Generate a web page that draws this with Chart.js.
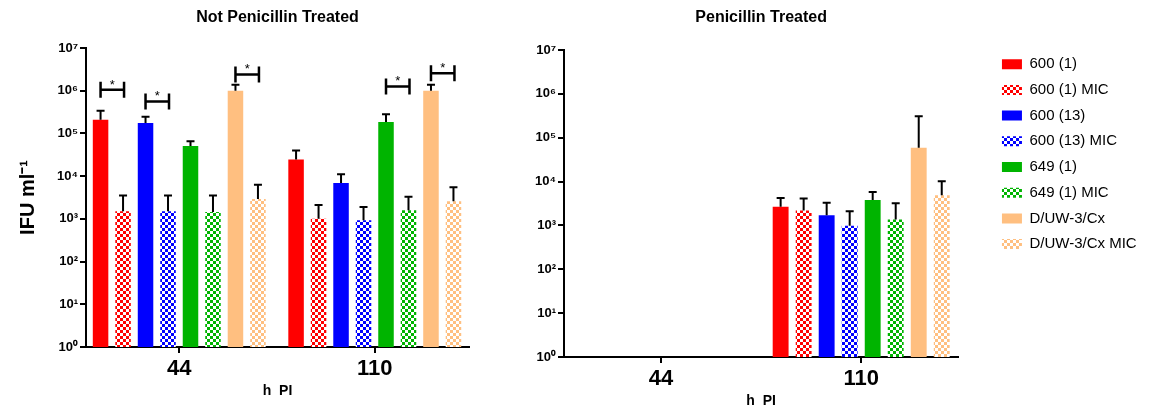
<!DOCTYPE html>
<html>
<head>
<meta charset="utf-8">
<script src="https://cdn.jsdelivr.net/npm/chart.js@4"></script>
<style>
  body { margin: 0; background: #fff; width: 1149px; height: 410px; overflow: hidden; position: relative; }
  #leftWrap { position: absolute; left: 0; top: 0; width: 490px; height: 410px; }
  #rightWrap { position: absolute; left: 500px; top: 0; width: 649px; height: 410px; }
</style>
</head>
<body>
<div id="leftWrap"><canvas id="left"></canvas></div>
<div id="rightWrap"><canvas id="right"></canvas></div>
<script>
var FONT = "'Liberation Sans', Arial, sans-serif";

// categories (hours post infection)
var categories = ["44", "110"];

var seriesLabels = ["600 (1)", "600 (1) MIC", "600 (13)", "600 (13) MIC",
  "649 (1)", "649 (1) MIC", "D/UW-3/Cx", "D/UW-3/Cx MIC"];
var seriesColors = ["#ff0000", "#ff0000", "#0000ff", "#0000ff",
  "#00b400", "#00b400", "#ffbf80", "#ffbf80"];
var seriesChecked = [false, true, false, true, false, true, false, true];

// Not penicillin treated: mean and top of error bar, per series [44, 110]
var leftMeans = [
  [2.1e5, 2.45e4],
  [1.5e3, 1.0e3],
  [1.75e5, 6.9e3],
  [1.5e3, 9.3e2],
  [5.1e4, 1.85e5],
  [1.45e3, 1.6e3],
  [1.0e6, 1.0e6],
  [2.9e3, 2.6e3]
];
var leftErrTop = [
  [3.4e5, 4.0e4],
  [3.5e3, 2.1e3],
  [2.45e5, 1.1e4],
  [3.5e3, 1.9e3],
  [6.6e4, 2.8e5],
  [3.5e3, 3.3e3],
  [1.38e6, 1.38e6],
  [6.3e3, 5.5e3]
];

// Penicillin treated (no 44 h data)
var rightMeans = [
  [null, 2.65e3],
  [null, 2.2e3],
  [null, 1.7e3],
  [null, 9.8e2],
  [null, 3.8e3],
  [null, 1.37e3],
  [null, 5.9e4],
  [null, 4.9e3]
];
var rightErrTop = [
  [null, 4.2e3],
  [null, 4.1e3],
  [null, 3.3e3],
  [null, 2.1e3],
  [null, 5.8e3],
  [null, 3.2e3],
  [null, 3.1e5],
  [null, 1.02e4]
];

// significance brackets on the left panel: category, series a, series b, level
var sigCat = [0, 0, 0, 1, 1];
var sigA = [0, 2, 6, 4, 6];
var sigB = [1, 3, 7, 5, 7];
var sigLevel = [1.05e6, 5.6e5, 2.4e6, 1.26e6, 2.57e6];

var yTickValues = [1, 10, 100, 1e3, 1e4, 1e5, 1e6, 1e7];
var yTickLabels = ["10\u2070", "10\u00b9", "10\u00b2", "10\u00b3", "10\u2074", "10\u2075", "10\u2076", "10\u2077"];

function checker(color) {
  var c = document.createElement("canvas");
  c.width = 6; c.height = 6;
  var g = c.getContext("2d");
  g.fillStyle = "#ffffff";
  g.fillRect(0, 0, 6, 6);
  g.fillStyle = color;
  g.fillRect(0, 0, 3, 3);
  g.fillRect(3, 3, 3, 3);
  return g.createPattern(c, "repeat");
}

function buildDatasets(means, errs) {
  var ds = [];
  for (var i = 0; i < seriesLabels.length; i++) {
    var pts = [];
    for (var j = 0; j < categories.length; j++) pts.push({ x: j, y: means[i][j] });
    ds.push({
      label: seriesLabels[i],
      data: pts,
      errTop: errs[i],
      backgroundColor: seriesChecked[i] ? checker(seriesColors[i]) : seriesColors[i],
      borderWidth: 0,
      categoryPercentage: 0.92,
      barPercentage: 0.69
    });
  }
  return ds;
}

var errorBars = {
  id: "errorBars",
  afterDatasetsDraw: function(chart) {
    var ctx = chart.ctx;
    var y = chart.scales.y;
    ctx.save();
    ctx.strokeStyle = "#000";
    ctx.lineWidth = 2;
    chart.data.datasets.forEach(function(ds, i) {
      var meta = chart.getDatasetMeta(i);
      meta.data.forEach(function(bar, j) {
        if (ds.data[j].y == null || ds.errTop[j] == null) return;
        var yTop = y.getPixelForValue(ds.errTop[j]);
        ctx.beginPath();
        ctx.moveTo(bar.x, bar.y);
        ctx.lineTo(bar.x, yTop);
        ctx.moveTo(bar.x - 4, yTop);
        ctx.lineTo(bar.x + 4, yTop);
        ctx.stroke();
      });
    });
    ctx.restore();
  }
};

var brackets = {
  id: "brackets",
  afterDatasetsDraw: function(chart) {
    var ctx = chart.ctx;
    var y = chart.scales.y;
    ctx.save();
    ctx.strokeStyle = "#000";
    ctx.fillStyle = "#000";
    ctx.lineWidth = 2.5;
    ctx.font = "13px " + FONT;
    ctx.textAlign = "center";
    ctx.textBaseline = "alphabetic";
    for (var k = 0; k < sigCat.length; k++) {
      var xa = chart.getDatasetMeta(sigA[k]).data[sigCat[k]].x;
      var xb = chart.getDatasetMeta(sigB[k]).data[sigCat[k]].x + 1;
      var yy = y.getPixelForValue(sigLevel[k]);
      ctx.beginPath();
      ctx.moveTo(xa, yy - 8); ctx.lineTo(xa, yy + 8);
      ctx.moveTo(xa, yy); ctx.lineTo(xb, yy);
      ctx.moveTo(xb, yy - 8); ctx.lineTo(xb, yy + 8);
      ctx.stroke();
      ctx.fillText("*", (xa + xb) / 2, yy - 1);
    }
    ctx.restore();
  }
};

// push the legend away from the plot, like the original layout
var legendShift = {
  id: "legendShift",
  afterLayout: function(chart) {
    if (chart.legend) {
      chart.legend.left += 33;
      chart.legend.right += 33;
      chart.legend.top -= 4;
      chart.legend.bottom -= 4;
    }
  }
};

function scalesFor(yWidth, xHeight, yTitle, xTitlePad, xMin, xMax) {
  return {
    x: {
      type: "linear",
      min: xMin,
      max: xMax,
      offset: false,
      grid: { display: true, offset: false, drawOnChartArea: false, drawTicks: true, tickLength: 6, color: "#000", lineWidth: 2 },
      border: { color: "#000", width: 2 },
      afterBuildTicks: function(s) {
        s.ticks = categories.map(function(c, i) { return { value: i }; });
      },
      ticks: {
        color: "#000", font: { family: FONT, size: 22, weight: "bold" }, padding: 3, autoSkip: false,
        callback: function(v) { return categories[v]; }
      },
      title: { display: true, text: "h  PI", color: "#000", font: { family: FONT, size: 14, weight: "bold" }, padding: { top: 0, bottom: xTitlePad } },
      afterFit: function(s) { s.height = xHeight; }
    },
    y: {
      type: "logarithmic",
      min: 1,
      max: 1e7,
      grid: { display: true, drawOnChartArea: false, drawTicks: true, tickLength: 6, color: "#000", lineWidth: 2 },
      border: { color: "#000", width: 2 },
      afterBuildTicks: function(s) {
        s.ticks = yTickValues.map(function(v) { return { value: v }; });
      },
      ticks: {
        color: "#000",
        font: { family: FONT, size: 13, weight: "bold" },
        padding: 2,
        autoSkip: false,
        callback: function(v) {
          var idx = yTickValues.indexOf(v);
          return idx >= 0 ? yTickLabels[idx] : "";
        }
      },
      title: { display: !!yTitle, text: yTitle || "", color: "#000", font: { family: FONT, size: 20, weight: "bold" }, padding: { top: 16, bottom: 0 } },
      afterFit: function(s) { s.width = yWidth; }
    }
  };
}

new Chart(document.getElementById("left"), {
  type: "bar",
  data: { datasets: buildDatasets(leftMeans, leftErrTop) },
  options: {
    responsive: true,
    maintainAspectRatio: false,
    animation: false,
    layout: { padding: { left: 0, right: 21, top: 0, bottom: 0 } },
    plugins: {
      legend: { display: false },
      tooltip: { enabled: false },
      title: {
        display: true, text: "Not Penicillin Treated", fullSize: false, color: "#000",
        font: { family: FONT, size: 16, weight: "bold" }, padding: { top: 8, bottom: 20.8 }
      }
    },
    scales: scalesFor(86, 63, "IFU ml\u207b\u00b9", 10, -0.477, 1.482)
  },
  plugins: [errorBars, brackets]
});

new Chart(document.getElementById("right"), {
  type: "bar",
  data: { datasets: buildDatasets(rightMeans, rightErrTop) },
  options: {
    responsive: true,
    maintainAspectRatio: false,
    animation: false,
    layout: { padding: { left: 0, right: 38, top: 0, bottom: 0 } },
    plugins: {
      legend: {
        display: true, position: "right", align: "start", fullSize: false,
        labels: { boxWidth: 20, boxHeight: 10, padding: 10.7, color: "#000", font: { family: FONT, size: 15 } }
      },
      tooltip: { enabled: false },
      title: {
        display: true, text: "Penicillin Treated", fullSize: false, color: "#000",
        font: { family: FONT, size: 16, weight: "bold" }, padding: { top: 8, bottom: 22.8 }
      }
    },
    scales: scalesFor(64, 53, "", 0, -0.485, 1.485)
  },
  plugins: [errorBars, legendShift]
});
</script>
</body>
</html>
